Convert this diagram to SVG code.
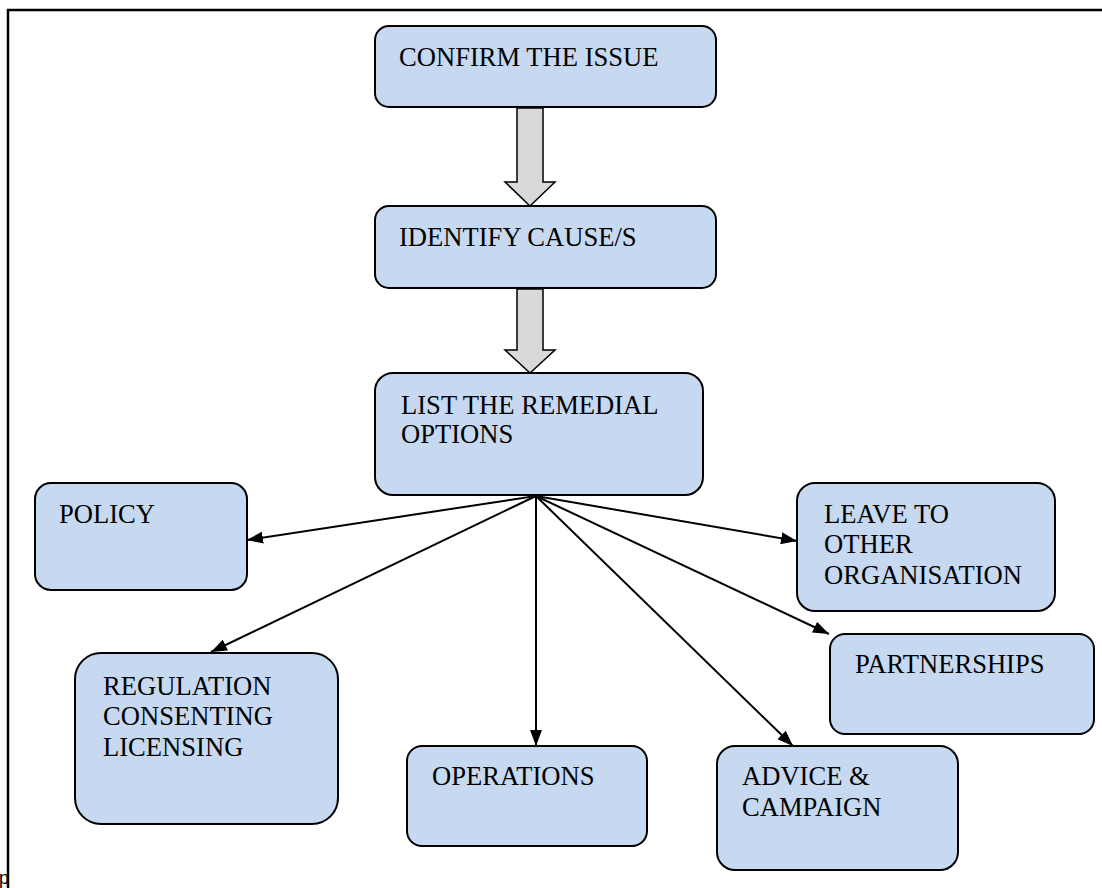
<svg xmlns="http://www.w3.org/2000/svg" width="1102" height="888" viewBox="0 0 1102 888">
<defs>
<marker id="ah" markerUnits="userSpaceOnUse" markerWidth="16" markerHeight="12" viewBox="0 0 16 12" refX="16" refY="6" orient="auto">
<path d="M0,0 L16,6 L0,12 Z" fill="#000"/>
</marker>
</defs>
<style>
.box{fill:#c6d9f1;stroke:#000;stroke-width:2}
.t{font-family:"Liberation Serif","Times New Roman",serif;font-size:26.6px;fill:#000}
.con{stroke:#000;stroke-width:2;fill:none;marker-end:url(#ah)}
.blk{fill:#d9d9d9;stroke:#000;stroke-width:1.5}
.frame{stroke:#000;stroke-width:2.5;fill:none}
</style>
<rect width="1102" height="888" fill="#fff"/>
<g id="frame">
<path class="frame" d="M8,888 L8,10 L1102,10"/>
<text x="-1" y="884" font-family="Liberation Sans, Arial, sans-serif" font-size="18">p</text>
</g>
<g id="connectors">
<path class="blk" d="M517,108 L543,108 L543,182 L555,182 L530,206 L505,182 L517,182 Z"/>
<path class="blk" d="M517,289 L543,289 L543,350 L555,350 L530,373 L505,350 L517,350 Z"/>
<line class="con" x1="536" y1="496" x2="247" y2="540"/>
<line class="con" x1="536" y1="496" x2="211" y2="652"/>
<line class="con" x1="536" y1="496" x2="536" y2="746"/>
<line class="con" x1="536" y1="496" x2="793" y2="746"/>
<line class="con" x1="536" y1="496" x2="829" y2="634"/>
<line class="con" x1="536" y1="496" x2="797" y2="541"/>
</g>
<g id="confirm">
<rect class="box" x="375" y="26" width="341" height="81" rx="14"/>
<text class="t" x="399" y="66">CONFIRM THE ISSUE</text>
</g>
<g id="identify">
<rect class="box" x="375" y="206" width="341" height="82" rx="14"/>
<text class="t" x="399" y="246">IDENTIFY CAUSE/S</text>
</g>
<g id="list">
<rect class="box" x="375" y="373" width="328" height="122" rx="18"/>
<text class="t" x="401" y="414">LIST THE REMEDIAL</text>
<text class="t" x="401" y="443">OPTIONS</text>
</g>
<g id="policy">
<rect class="box" x="35" y="483" width="212" height="107" rx="16"/>
<text class="t" x="59" y="523">POLICY</text>
</g>
<g id="leave">
<rect class="box" x="797" y="483" width="258" height="128" rx="18"/>
<text class="t" x="824" y="523">LEAVE TO</text>
<text class="t" x="824" y="553">OTHER</text>
<text class="t" x="824" y="584">ORGANISATION</text>
</g>
<g id="partnerships">
<rect class="box" x="830" y="634" width="264" height="100" rx="15"/>
<text class="t" x="855" y="673">PARTNERSHIPS</text>
</g>
<g id="regulation">
<rect class="box" x="75" y="653" width="263" height="171" rx="26"/>
<text class="t" x="103" y="695">REGULATION</text>
<text class="t" x="103" y="725">CONSENTING</text>
<text class="t" x="103" y="756">LICENSING</text>
</g>
<g id="operations">
<rect class="box" x="407" y="746" width="240" height="100" rx="15"/>
<text class="t" x="432" y="785">OPERATIONS</text>
</g>
<g id="advice">
<rect class="box" x="717" y="746" width="241" height="124" rx="18"/>
<text class="t" x="742" y="785">ADVICE &amp;</text>
<text class="t" x="742" y="816">CAMPAIGN</text>
</g>
</svg>
